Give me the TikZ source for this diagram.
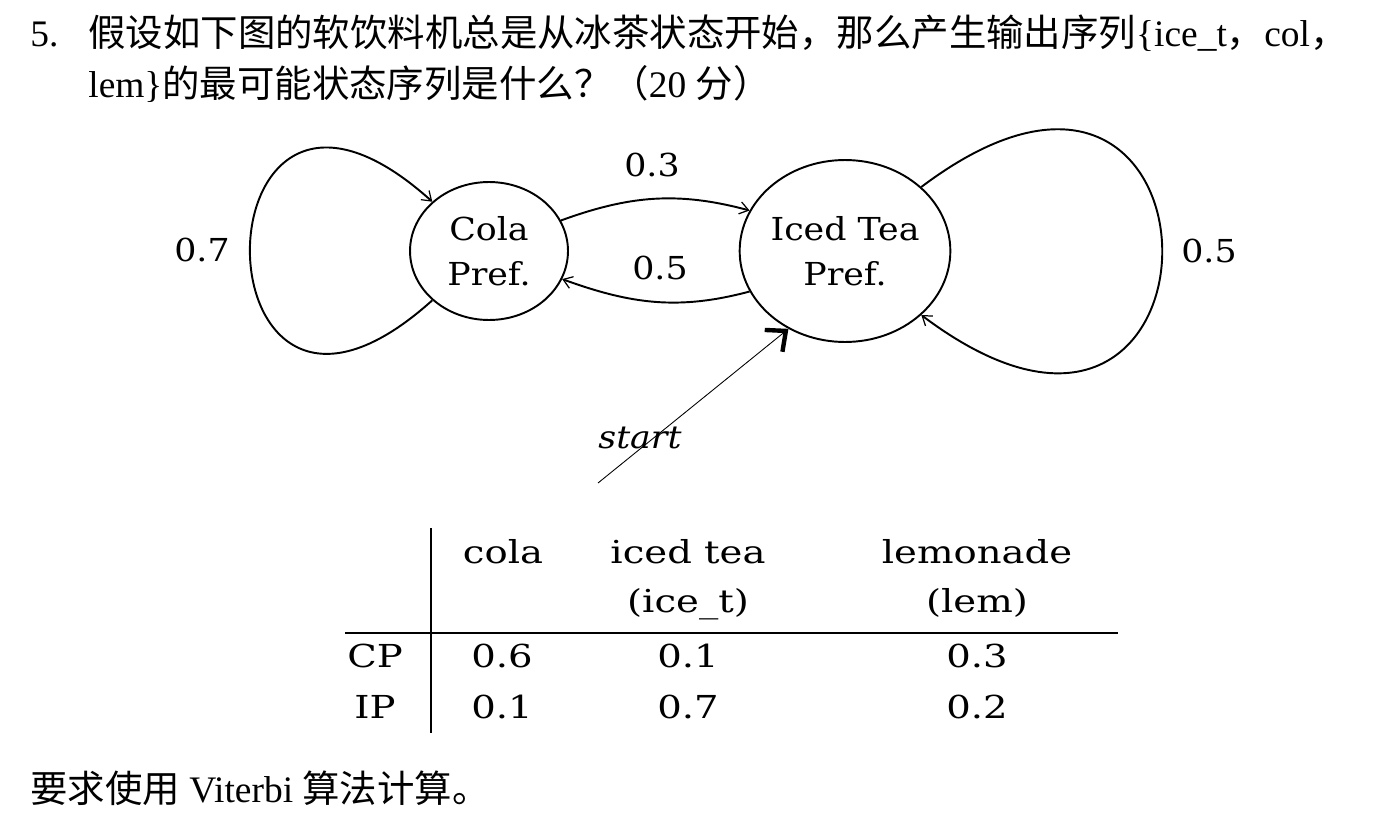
\documentclass[tikz,border=0pt]{standalone}
\usepackage{fontspec}
\setmainfont{Liberation Serif}
\newfontfamily\cjk{Noto Sans CJK SC}
\newfontfamily\lblfont[FakeStretch=1.1]{DejaVu Serif}
\newfontfamily\tabfont[FakeStretch=1.22]{DejaVu Serif}
\usetikzlibrary{arrows.meta}
\usetikzlibrary{shapes.geometric}

\tikzset{
  pref/.style={draw, ellipse, line width=1.1pt, inner sep=0pt, align=center, font=\lblfont\fontsize{18}{25.5}\selectfont},
  lbl/.style={inner sep=0pt, font=\lblfont\fontsize{18}{22}\selectfont},
  cell/.style={inner sep=0pt, anchor=base, font=\tabfont\fontsize{18}{20}\selectfont},
  txt/.style={inner sep=0pt, anchor=base west, font=\fontsize{21.3}{26}\selectfont},
  arr/.style={line width=1.1pt, -{Straight Barb[length=5pt, width=7pt, line width=0.7pt]}},
  startarr/.style={line width=0.5pt, -{Straight Barb[length=9pt, width=16pt, line width=2.5pt]}}
}

\begin{document}
\begin{tikzpicture}[x=0.02cm, y=0.02cm]
    \useasboundingbox (0,0) rectangle (1392,-828);

    \node [txt] (num) at (30,-47) {5.};
    \node [txt] (q1) at (88,-47) {{\cjk 假设如下图的软饮料机总是从冰茶状态开始，那么产生输出序列}\{ice\_t{\cjk ，}col{\cjk ，}};
    \node [txt] (q2) at (88,-97) {lem\}{\cjk 的最可能状态序列是什么？（}20 {\cjk 分）}};
    \node [txt] (req) at (30,-802) {{\cjk 要求使用} Viterbi {\cjk 算法计算。}};

    \node [pref, minimum width=3.16cm, minimum height=2.76cm] (cola) at (489,-251) {Cola\\Pref.};
    \node [pref, minimum width=4.2cm, minimum height=3.64cm] (iced) at (845,-251) {Iced Tea\\Pref.};

    \draw [arr] (cola.23) to [out=20, in=165] (iced.157);
    \draw [arr] (iced.203) to [out=195, in=-20] (cola.339);
    \draw [arr] (cola.221) .. controls +(222:327) and +(138:327) .. (cola.139);
    \draw [arr] (iced.40) .. controls +(37:402) and +(-37:402) .. (iced.320);
    \coordinate (s) at (598,-483);
    \draw [startarr] (s) -- (iced.234);

    \node [lbl] (p7) at (202,-250) {0.7};
    \node [lbl] (p3) at (652,-165) {0.3};
    \node [lbl] (p5a) at (660,-268) {0.5};
    \node [lbl] (p5b) at (1209,-251) {0.5};
    \node [lbl, font=\lblfont\itshape\fontsize{18}{22}\selectfont] (st) at (640,-438) {start};

    \draw [line width=0.8pt] (431,-528) -- (431,-733);
    \draw [line width=0.8pt] (345,-633) -- (1118,-633);

    \node [cell] (hc) at (503,-563) {cola};
    \node [cell] (hi) at (688,-563) {iced tea};
    \node [cell] (hi2) at (688,-612) {(ice\_t)};
    \node [cell] (hl) at (977,-563) {lemonade};
    \node [cell] (hl2) at (977,-612) {(lem)};
    \node [cell] (cp) at (375,-667) {CP};
    \node [cell] (ip) at (375,-718) {IP};
    \node [cell] (cpc) at (502,-667) {0.6};
    \node [cell] (cpi) at (688,-667) {0.1};
    \node [cell] (cpl) at (977,-667) {0.3};
    \node [cell] (ipc) at (502,-718) {0.1};
    \node [cell] (ipi) at (688,-718) {0.7};
    \node [cell] (ipl) at (977,-718) {0.2};
\end{tikzpicture}
\end{document}
